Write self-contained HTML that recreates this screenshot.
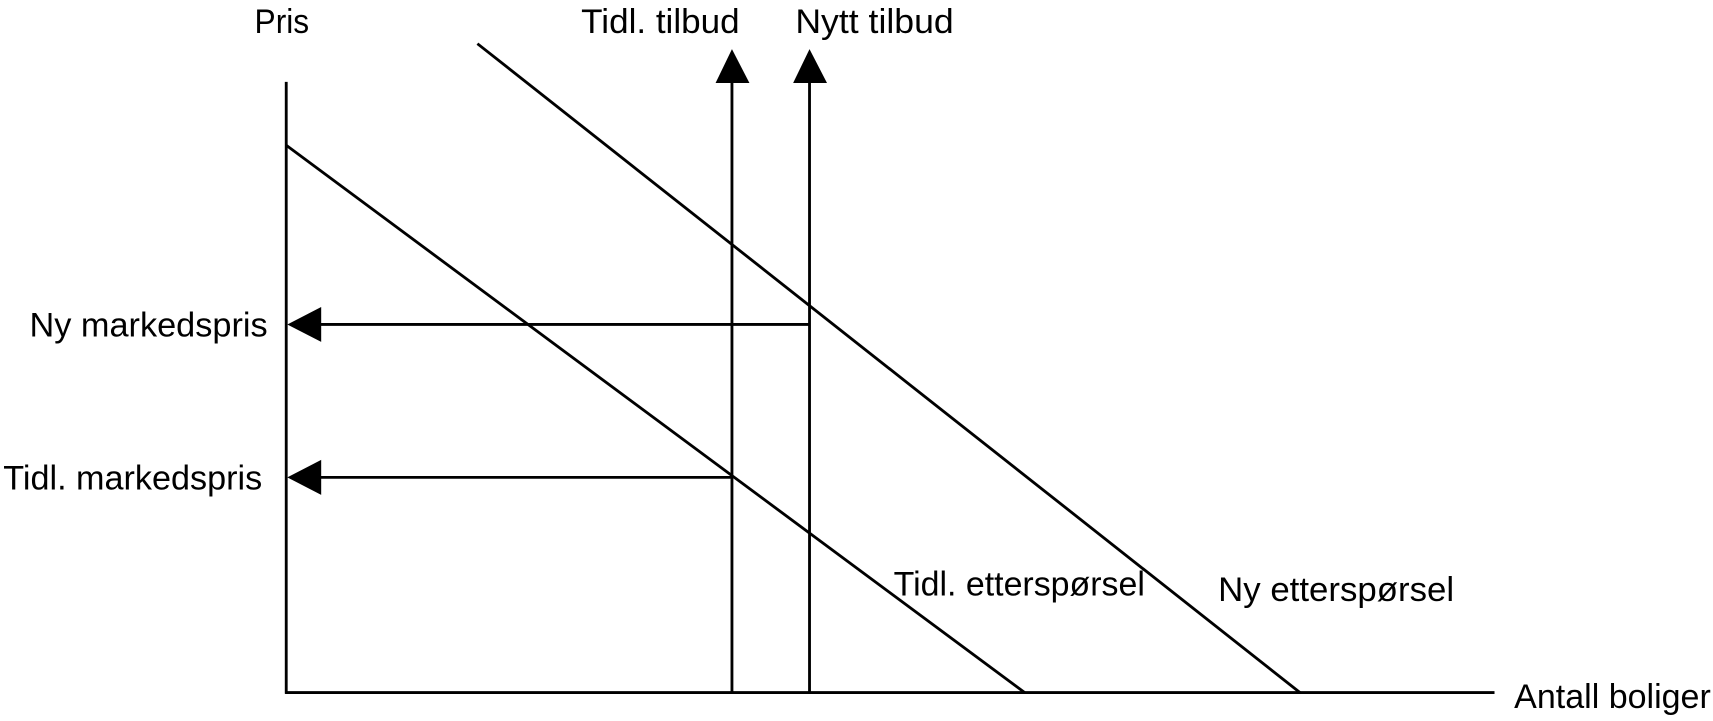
<!DOCTYPE html>
<html><head><meta charset="utf-8"><style>
html,body{margin:0;padding:0;background:#fff;}
svg{display:block;}
text{font-family:"Liberation Sans",Arial,sans-serif;font-size:31px;fill:#000;}
</style></head><body>
<svg width="1713" height="721" viewBox="0 0 1568 660" preserveAspectRatio="none" xmlns="http://www.w3.org/2000/svg">
<rect width="1568" height="660" fill="#fff"/>
<g stroke="#000" stroke-width="2.6" fill="none">
<line x1="262" y1="75" x2="262" y2="635"/>
<line x1="261" y1="634" x2="1368" y2="634"/>
<line x1="670" y1="70" x2="670" y2="634"/>
<line x1="741" y1="70" x2="741" y2="634"/>
<line x1="262" y1="133" x2="938" y2="634"/>
<line x1="437" y1="40" x2="1190" y2="634"/>
<line x1="290" y1="297" x2="741" y2="297"/>
<line x1="290" y1="437" x2="670" y2="437"/>
</g>
<g fill="#000">
<polygon points="670,45 655,76 686,76"/>
<polygon points="741,45 726,76 757,76"/>
<polygon points="263,297 294,281 294,313"/>
<polygon points="263,437 294,421 294,453"/>
</g>
<text x="233" y="30" textLength="50" lengthAdjust="spacingAndGlyphs">Pris</text>
<text x="532" y="30" textLength="145" lengthAdjust="spacingAndGlyphs">Tidl. tilbud</text>
<text x="728" y="30" textLength="145" lengthAdjust="spacingAndGlyphs">Nytt tilbud</text>
<text x="27" y="308" textLength="218" lengthAdjust="spacingAndGlyphs">Ny markedspris</text>
<text x="3" y="448" textLength="237" lengthAdjust="spacingAndGlyphs">Tidl. markedspris</text>
<text x="818" y="545" textLength="230" lengthAdjust="spacingAndGlyphs">Tidl. etterspørsel</text>
<text x="1115" y="550" textLength="216" lengthAdjust="spacingAndGlyphs">Ny etterspørsel</text>
<text x="1386" y="648" textLength="180" lengthAdjust="spacingAndGlyphs">Antall boliger</text>
</svg>
</body></html>
